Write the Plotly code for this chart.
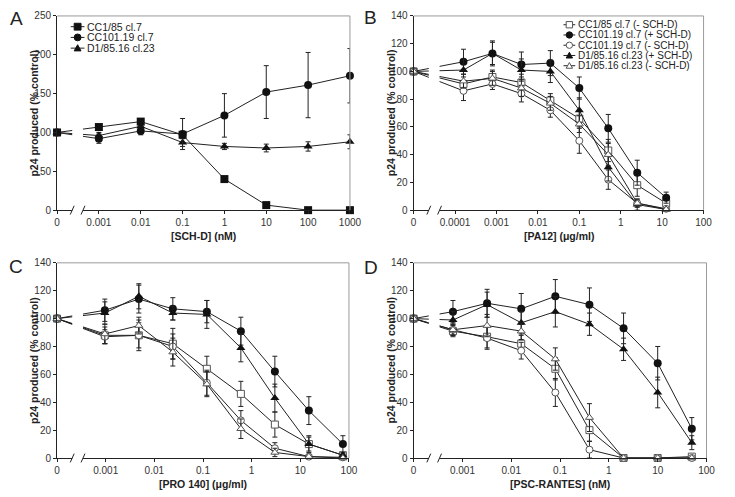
import plotly.graph_objects as go

W, H = 735, 497
OFF = 8  # the page body adds an 8 px margin; layout pixels below are screen pixels

# ---------------- data ----------------
# Panel A : [SCH-D] (nM)
A_conc = [0, 0.001, 0.01, 0.1, 1, 10, 100, 1000]
A_cc185 = [100, 107, 114, 97, 40, 6.5, 0, 0]
A_cc185_err = [0, 3, 3, 3, 2, 2, 0, 0]
A_cc101 = [100, 92, 102, 98, 122, 152, 161, 173]
A_cc101_err = [0, 6, 5, 20, 28, 34, 42, 35]
A_d185 = [100, 96, 108, 87, 82, 80, 82, 88]
A_d185_err = [0, 4, 4, 5, 4, 5, 6, 9]
A_ticks = ["0", "0.001", "0.01", "0.1", "1", "10", "100", "1000"]

# Panel B : [PA12] (ug/ml)
B_conc = [0, 0.00016, 0.0008, 0.004, 0.02, 0.1, 0.5, 2.5, 12.5]
B_cc185_m = [100, 91, 96, 92, 79, 66, 43, 18, 5]
B_cc185_m_err = [0, 5, 5, 6, 5, 6, 8, 8, 3]
B_cc101_p = [100, 107, 113, 105, 106, 88, 59, 27, 9]
B_cc101_p_err = [0, 9, 9, 9, 9, 8, 10, 9, 4]
B_cc101_m = [100, 86, 91, 84, 72, 50, 22, 5, 1]
B_cc101_m_err = [0, 7, 4, 6, 5, 9, 7, 2, 1]
B_d185_p = [100, 101, 113, 101, 100, 72, 31, 4, 0.5]
B_d185_p_err = [0, 8, 8, 8, 8, 9, 10, 4, 1]
B_d185_m = [100, 93, 95, 88, 77, 62, 40, 5, 0.5]
B_d185_m_err = [0, 5, 5, 6, 5, 6, 8, 3, 1]
B_ticks = ["0", "0.0001", "0.001", "0.01", "0.1", "1", "10", "100"]

# Panel C : [PRO 140] (ug/ml)
C_conc = [0, 0.00096, 0.0048, 0.024, 0.12, 0.6, 3, 15, 75]
C_cc101_p = [100, 106, 114, 107, 105, 91, 62, 34, 10]
C_cc101_p_err = [0, 8, 10, 8, 8, 10, 11, 10, 6]
C_d185_p = [100, 104, 116, 104, 103, 79, 43, 10, 2]
C_d185_p_err = [0, 8, 9, 5, 10, 10, 10, 6, 1]
C_cc185_m = [100, 88, 88, 82, 64, 46, 24, 10, 2]
C_cc185_m_err = [0, 6, 11, 11, 9, 9, 9, 5, 1]
C_cc101_m = [100, 87, 88, 80, 54, 27, 7, 1, 0.5]
C_cc101_m_err = [0, 5, 9, 9, 9, 7, 4, 1, 0.5]
C_d185_m = [100, 89, 95, 76, 53, 21, 4, 1, 0]
C_d185_m_err = [0, 7, 6, 10, 9, 7, 3, 1, 0]
C_ticks = ["0", "0.001", "0.01", "0.1", "1", "10", "100"]

# Panel D : [PSC-RANTES] (nM)
D_conc = [0, 0.00064, 0.0032, 0.016, 0.08, 0.4, 2, 10, 50]
D_cc101_p = [100, 105, 111, 107, 116, 110, 93, 68, 21]
D_cc101_p_err = [0, 8, 10, 11, 12, 12, 11, 12, 8]
D_d185_p = [100, 99, 110, 97, 105, 96, 78, 47, 11]
D_d185_p_err = [0, 6, 9, 8, 11, 8, 8, 11, 5]
D_cc185_m = [100, 91, 87, 82, 64, 20, 0, 0, 1]
D_cc185_m_err = [0, 4, 8, 6, 8, 8, 1, 1, 0.5]
D_cc101_m = [100, 92, 86, 77, 47, 6, 0, 0, 0]
D_cc101_m_err = [0, 4, 8, 6, 10, 6, 0, 0, 0]
D_d185_m = [100, 92, 95, 91, 71, 29, 0, 0, 0]
D_d185_m_err = [0, 4, 8, 6, 8, 10, 0, 0, 0]
D_ticks = ["0", "0.001", "0.01", "0.1", "1", "10", "100"]

A_names = ["CC1/85 cl.7", "CC101.19 cl.7", "D1/85.16 cl.23"]
B_names = ["CC1/85 cl.7 (- SCH-D)", "CC101.19 cl.7 (+ SCH-D)", "CC101.19 cl.7 (- SCH-D)",
           "D1/85.16 cl.23 (+ SCH-D)", "D1/85.16 cl.23 (- SCH-D)"]

# ---------------- styling ----------------
FONT = "Liberation Sans, Arial, sans-serif"
DARK = "#222222"
FILL_DARK = "#111111"
OPEN_LINE = "#555555"
STY = {
    "sq_f": dict(symbol="square", size=8, color=FILL_DARK, line=dict(width=0)),
    "ci_f": dict(symbol="circle", size=8, color=FILL_DARK, line=dict(width=0)),
    "tr_f": dict(symbol="triangle-up", size=8, color=FILL_DARK, line=dict(width=0)),
    "sq_o": dict(symbol="square", size=7, color="white", line=dict(width=1, color=OPEN_LINE)),
    "ci_o": dict(symbol="circle", size=7, color="white", line=dict(width=1, color=OPEN_LINE)),
    "tr_o": dict(symbol="triangle-up", size=7, color="white", line=dict(width=1, color=OPEN_LINE)),
}

# panel pixel boxes (screen pixels): (left, right, top, bottom)
panels = {
    "A": dict(box=(55, 354, 10, 209), xr=(-4, 3), yr=(0, 250), dy=50, ticks=A_ticks, zero=1e-4),
    "B": dict(box=(419, 715, 10, 209), xr=(-5, 2), yr=(0, 140), dy=20, ticks=B_ticks, zero=1e-5),
    "C": dict(box=(55, 353, 263, 463), xr=(-4, 2), yr=(0, 140), dy=20, ticks=C_ticks, zero=1e-4),
    "D": dict(box=(419, 718, 263, 463), xr=(-4, 2), yr=(0, 140), dy=20, ticks=D_ticks, zero=1e-4),
}
order = ["A", "B", "C", "D"]


def px(x):
    return (x - OFF) / W


def py(y):
    return 1 - (y - OFF) / H


fig = go.Figure()
layout = dict(width=W, height=H, autosize=False, margin=dict(l=0, r=0, t=0, b=0, pad=0),
              paper_bgcolor="white", plot_bgcolor="white", showlegend=False,
              font=dict(family=FONT, color="#333333"))
shapes, annos = [], []


def line_shape(x0, y0, x1, y1, color, width=1, layer="above"):
    shapes.append(dict(type="line", xref="paper", yref="paper", x0=px(x0), x1=px(x1),
                       y0=py(y0), y1=py(y1), line=dict(color=color, width=width), layer=layer))


TICKFONT = dict(size=10, family=FONT, color="#333333")
for i, key in enumerate(order):
    p = panels[key]
    l, r, t, b = p["box"]
    sfx = "" if i == 0 else str(i + 1)
    osfx = str(i + 5)
    tv = [10 ** e for e in range(p["xr"][0], p["xr"][1] + 1)]
    common_x = dict(type="log", range=list(p["xr"]), tickvals=tv, tickcolor=DARK,
                    showgrid=False, zeroline=False, fixedrange=True)
    common_y = dict(range=list(p["yr"]), dtick=p["dy"], tick0=0, tickcolor=DARK,
                    showgrid=False, zeroline=False, fixedrange=True)
    layout["xaxis" + sfx] = dict(
        domain=[px(l), px(r)], anchor="y" + sfx, ticktext=p["ticks"], ticks="outside",
        ticklen=3, showline=True, linecolor=DARK, linewidth=1, tickfont=TICKFONT, **common_x)
    layout["yaxis" + sfx] = dict(
        domain=[py(b), py(t)], anchor="x" + sfx, ticks="outside", ticklen=3, showline=True,
        linecolor=DARK, linewidth=1, tickfont=TICKFONT, **common_y)
    # companion axes giving the inner half of the crossing tick marks
    layout["xaxis" + osfx] = dict(overlaying="x" + sfx, anchor="y" + sfx, side="bottom",
                                  ticks="inside", ticklen=3, showticklabels=False,
                                  showline=False, **common_x)
    layout["yaxis" + osfx] = dict(overlaying="y" + sfx, anchor="x" + sfx, side="left",
                                  ticks="inside", ticklen=3, showticklabels=False,
                                  showline=False, **common_y)
    # gray frame (top and right)
    line_shape(l, t, r, t, "#9a9a9a")
    line_shape(r, t, r, b, "#9a9a9a")
    # axis break: white gap + two slashes
    shapes.append(dict(type="rect", xref="paper", yref="paper", x0=px(l + 15.5), x1=px(l + 26.5),
                       y0=py(b + 4), y1=py(t + 3), line=dict(width=0), fillcolor="white",
                       layer="above"))
    for cx in (l + 15.5, l + 26.5):
        line_shape(cx - 2, b + 4.5, cx + 2, b - 4.5, DARK)


def add(key, conc, vals, errs, sty, name):
    idx = order.index(key)
    sfx = "" if idx == 0 else str(idx + 1)
    z = panels[key]["zero"]
    xs = [z if c == 0 else c for c in conc]
    fig.add_trace(go.Scatter(
        x=xs, y=vals, name=name, mode="lines+markers", xaxis="x" + sfx, yaxis="y" + sfx,
        line=dict(color=DARK, width=1), marker=STY[sty], cliponaxis=False,
        error_y=dict(type="data", array=errs, visible=True, color=DARK, thickness=1, width=2.5),
        hoverinfo="skip"))


add("A", A_conc, A_d185, A_d185_err, "tr_f", A_names[2])
add("A", A_conc, A_cc101, A_cc101_err, "ci_f", A_names[1])
add("A", A_conc, A_cc185, A_cc185_err, "sq_f", A_names[0])

B_series = [(B_cc185_m, B_cc185_m_err, "sq_o"), (B_cc101_p, B_cc101_p_err, "ci_f"),
            (B_cc101_m, B_cc101_m_err, "ci_o"), (B_d185_p, B_d185_p_err, "tr_f"),
            (B_d185_m, B_d185_m_err, "tr_o")]
C_series = [(C_cc185_m, C_cc185_m_err, "sq_o"), (C_cc101_p, C_cc101_p_err, "ci_f"),
            (C_cc101_m, C_cc101_m_err, "ci_o"), (C_d185_p, C_d185_p_err, "tr_f"),
            (C_d185_m, C_d185_m_err, "tr_o")]
D_series = [(D_cc185_m, D_cc185_m_err, "sq_o"), (D_cc101_p, D_cc101_p_err, "ci_f"),
            (D_cc101_m, D_cc101_m_err, "ci_o"), (D_d185_p, D_d185_p_err, "tr_f"),
            (D_d185_m, D_d185_m_err, "tr_o")]
for key, conc, ser in (("B", B_conc, B_series), ("C", C_conc, C_series), ("D", D_conc, D_series)):
    for (v, e, s), nm in zip(ser, B_names):
        add(key, conc, v, e, s, nm)


# ---------------- custom legends (shapes + text) ----------------
def key_marker(cx, cy, sty, s):
    filled = sty.endswith("_f")
    fill = FILL_DARK if filled else "white"
    lc = FILL_DARK if filled else OPEN_LINE
    h = s / 2.0
    if sty.startswith("sq"):
        shapes.append(dict(type="rect", xref="paper", yref="paper", x0=px(cx - h), x1=px(cx + h),
                           y0=py(cy + h), y1=py(cy - h), fillcolor=fill,
                           line=dict(color=lc, width=1), layer="above"))
    elif sty.startswith("ci"):
        shapes.append(dict(type="circle", xref="paper", yref="paper", x0=px(cx - h), x1=px(cx + h),
                           y0=py(cy + h), y1=py(cy - h), fillcolor=fill,
                           line=dict(color=lc, width=1), layer="above"))
    else:
        path = "M %f %f L %f %f L %f %f Z" % (px(cx - h), py(cy + h * 0.8), px(cx + h),
                                              py(cy + h * 0.8), px(cx), py(cy - h))
        shapes.append(dict(type="path", xref="paper", yref="paper", path=path, fillcolor=fill,
                           line=dict(color=lc, width=1), layer="above"))


def legend(items, x0, x1, xt, ys, size, msize):
    for (nm, sty), yy in zip(items, ys):
        line_shape(x0, yy, x1, yy, DARK)
        key_marker((x0 + x1) / 2.0, yy, sty, msize)
        annos.append(dict(x=px(xt), y=py(yy), xref="paper", yref="paper", text=nm,
                          showarrow=False, xanchor="left", yanchor="middle",
                          font=dict(size=size, family=FONT, color="#222222")))


legend(list(zip(A_names, ["sq_f", "ci_f", "tr_f"])), 69, 83, 84, [21, 32, 43], 10.5, 7)
legend(list(zip(B_names, ["sq_o", "ci_f", "ci_o", "tr_f", "tr_o"])), 572, 584, 585,
       [19, 29.5, 40, 50.5, 61], 10, 6.5)

# ---------------- titles & letters ----------------
ytitle = "p24 produced (% control)"
xtitles = {"A": "[SCH-D] (nM)", "B": "[PA12] (μg/ml)", "C": "[PRO 140] (μg/ml)",
           "D": "[PSC-RANTES] (nM)"}
letters = {"A": (14, 13), "B": (375, 12), "C": (13, 267), "D": (375, 268)}
for key in order:
    l, r, t, b = panels[key]["box"]
    annos.append(dict(x=px(l - 23), y=py((t + b) / 2.0), xref="paper", yref="paper",
                      text="<b>%s</b>" % ytitle, textangle=-90, showarrow=False,
                      xanchor="center", yanchor="middle",
                      font=dict(size=10.5, family=FONT, color="#222222")))
    annos.append(dict(x=px((l + r) / 2.0), y=py(b + 27), xref="paper", yref="paper",
                      text="<b>%s</b>" % xtitles[key], showarrow=False,
                      xanchor="center", yanchor="middle",
                      font=dict(size=10.5, family=FONT, color="#222222")))
    lx, ly = letters[key]
    annos.append(dict(x=px(lx), y=py(ly), xref="paper", yref="paper", text=key,
                      showarrow=False, xanchor="center", yanchor="middle",
                      font=dict(size=19, family=FONT, color="#222222")))

layout["shapes"] = shapes
layout["annotations"] = annos
fig.update_layout(**layout)
fig.write_html("out.html")
